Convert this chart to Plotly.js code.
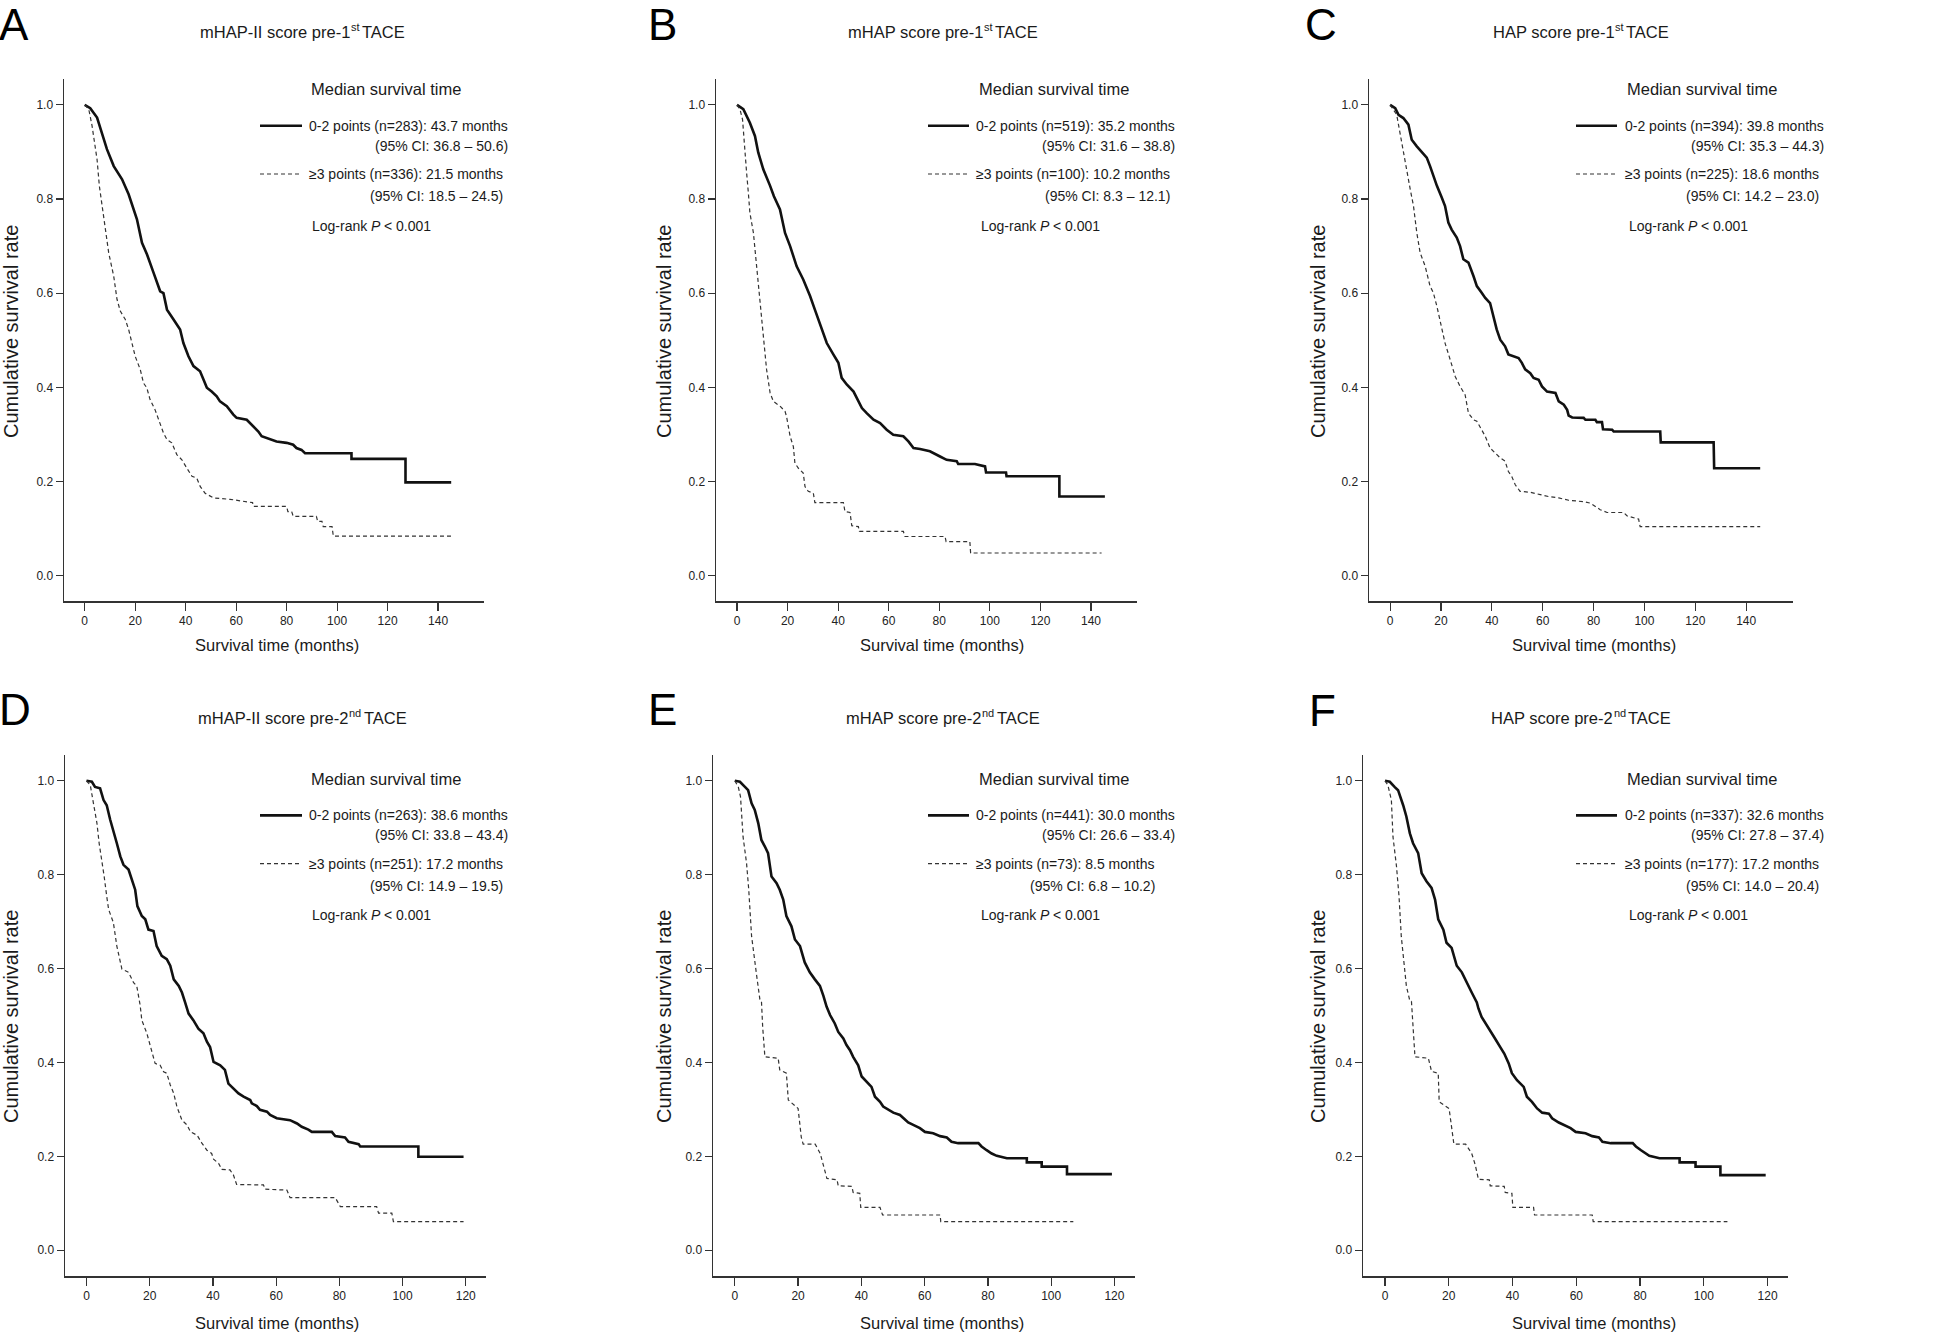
<!DOCTYPE html>
<html>
<head>
<meta charset="utf-8">
<script src="https://cdn.plot.ly/plotly-3.0.1.min.js"></script>
<style>html,body{margin:0;padding:0;background:#fff;}#chart{width:1946px;height:1337px;}</style>
</head>
<body>
<div id="chart"></div>
<script>
// ---------------- DATA ----------------
const panelLetters = ['A','B','C','D','E','F'];
const titleMain = ['mHAP-II score pre-1','mHAP score pre-1','HAP score pre-1','mHAP-II score pre-2','mHAP score pre-2','HAP score pre-2'];
const titleSup = ['st','st','st','nd','nd','nd'];
const titleTail = 'TACE';
const lowLabels = [
  '0-2 points (n=283): 43.7 months','0-2 points (n=519): 35.2 months','0-2 points (n=394): 39.8 months',
  '0-2 points (n=263): 38.6 months','0-2 points (n=441): 30.0 months','0-2 points (n=337): 32.6 months'
];
const lowCI = [
  '(95% CI: 36.8 – 50.6)','(95% CI: 31.6 – 38.8)','(95% CI: 35.3 – 44.3)',
  '(95% CI: 33.8 – 43.4)','(95% CI: 26.6 – 33.4)','(95% CI: 27.8 – 37.4)'
];
const highLabels = [
  '≥3 points (n=336): 21.5 months','≥3 points (n=100): 10.2 months','≥3 points (n=225): 18.6 months',
  '≥3 points (n=251): 17.2 months','≥3 points (n=73): 8.5 months','≥3 points (n=177): 17.2 months'
];
const highCI = [
  '(95% CI: 18.5 – 24.5)','(95% CI: 8.3 – 12.1)','(95% CI: 14.2 – 23.0)',
  '(95% CI: 14.9 – 19.5)','(95% CI: 6.8 – 10.2)','(95% CI: 14.0 – 20.4)'
];
const legendHeading = 'Median survival time';
const logRankParts = ['Log-rank', 'P', '< 0.001'];
const xAxisTitle = 'Survival time (months)';
const yAxisTitle = 'Cumulative survival rate';
const xTicksTop = [0,20,40,60,80,100,120,140];
const xTicksBottom = [0,20,40,60,80,100,120];
const yTicks = [0,0.2,0.4,0.6,0.8,1.0];

// Panel A
const A_solid_t = [0,2.2,4.9,6.2,8.8,11.5,14.8,17.4,19.4,20.7,22.7,24.7,27.3,29.9,31.2,32.6,35.2,37.8,39.1,41.1,43.1,45.7,47.1,48.4,50.3,52.3,53.6,56.3,58.9,60.2,64.2,66.8,68.8,70.1,72.1,76.0,80.0,82.6,83.9,85.9,87.3,105.7,105.7,127.1,127.1,145.2];
const A_solid_s = [1.0,0.993,0.973,0.952,0.906,0.870,0.842,0.810,0.778,0.757,0.707,0.682,0.643,0.604,0.600,0.565,0.544,0.523,0.494,0.466,0.445,0.434,0.416,0.399,0.391,0.381,0.370,0.360,0.342,0.335,0.331,0.317,0.306,0.296,0.292,0.285,0.282,0.278,0.271,0.267,0.260,0.260,0.248,0.248,0.198,0.198];
const A_dash_t = [0,1.6,2.9,3.95,4.9,5.8,6.9,8.2,9.5,11.5,12.8,14.1,16.1,17.4,18.7,20.0,22.0,23.3,24.6,25.9,27.9,29.3,31.2,32.6,34.5,36.5,38.5,40.5,42.5,44.4,45.8,47.7,51.0,57.6,65.5,66.5,66.8,80.0,80.5,82.0,82.6,91.8,92.3,94.0,94.5,98.0,98.5,145.2];
const A_dash_s = [1.0,0.991,0.956,0.920,0.884,0.828,0.785,0.743,0.686,0.636,0.587,0.562,0.544,0.523,0.494,0.466,0.438,0.409,0.399,0.374,0.352,0.331,0.303,0.289,0.282,0.257,0.246,0.228,0.211,0.207,0.189,0.175,0.165,0.162,0.155,0.155,0.147,0.147,0.136,0.136,0.126,0.126,0.115,0.115,0.104,0.104,0.084,0.084];

// Panel B
const B_solid_t = [0,2.5,5.1,7.1,8.4,10.4,13.1,14.6,17.0,19.0,21.0,23.6,26.2,28.9,30.8,32.1,33.5,35.5,38.1,40.1,41.4,43.4,46.1,48.0,49.4,51.3,54.0,56.6,59.2,61.8,65.8,67.8,69.8,72.4,76.3,80.3,82.9,86.9,87.5,94.1,98.1,98.5,106.4,106.6,127.5,127.5,145.5];
const B_solid_s = [1.0,0.991,0.962,0.934,0.899,0.863,0.828,0.806,0.778,0.728,0.700,0.657,0.629,0.594,0.565,0.544,0.523,0.494,0.470,0.452,0.420,0.406,0.391,0.370,0.356,0.345,0.331,0.324,0.310,0.299,0.296,0.285,0.271,0.269,0.264,0.253,0.246,0.243,0.237,0.237,0.232,0.219,0.219,0.211,0.211,0.168,0.168];
const B_dash_t = [0,1.2,2.2,2.9,3.8,4.5,5.1,6.5,7.5,8.4,9.5,10.1,10.8,11.7,13.1,14.4,17.0,19.0,19.6,21.0,22.3,22.9,24.3,26.2,26.9,28.2,30.2,30.8,42.1,42.7,44.7,45.4,48.0,48.4,65.8,66.4,82.3,82.7,92.1,92.4,144.2];
const B_dash_s = [1.0,0.990,0.969,0.913,0.856,0.813,0.771,0.728,0.672,0.615,0.558,0.523,0.480,0.438,0.388,0.370,0.360,0.349,0.338,0.296,0.274,0.239,0.228,0.218,0.189,0.179,0.175,0.155,0.155,0.136,0.134,0.106,0.104,0.094,0.094,0.083,0.083,0.072,0.072,0.048,0.048];

// Panel C
const C_solid_t = [0,2.0,3.3,5.2,7.2,8.5,10.5,12.5,14.4,15.7,17.0,18.4,20.3,21.6,22.9,24.2,26.2,27.5,28.8,30.8,32.8,34.1,36.0,37.4,39.3,40.6,41.9,43.3,45.2,46.5,48.5,50.5,51.8,53.1,55.1,56.4,58.4,59.7,61.7,65.0,66.3,68.3,69.6,70.2,71.6,76.1,76.8,80.7,81.3,83.3,83.7,87.3,87.9,106.2,106.4,127.2,127.4,145.5];
const C_solid_s = [1.0,0.993,0.979,0.972,0.958,0.926,0.912,0.899,0.888,0.870,0.849,0.828,0.803,0.785,0.750,0.735,0.718,0.700,0.672,0.665,0.636,0.615,0.601,0.590,0.579,0.551,0.523,0.501,0.487,0.470,0.466,0.462,0.452,0.438,0.430,0.420,0.416,0.402,0.391,0.388,0.370,0.363,0.352,0.340,0.336,0.335,0.331,0.331,0.326,0.326,0.311,0.310,0.306,0.306,0.283,0.283,0.228,0.228];
const C_dash_t = [0,1.3,2.6,3.9,5.2,6.6,7.9,9.2,10.5,11.8,13.8,15.7,17.0,18.4,19.7,20.3,21.6,23.6,25.6,27.5,29.5,30.8,32.8,34.1,36.1,37.4,39.3,41.3,43.3,45.2,46.5,47.8,49.2,51.1,55.1,59.0,62.3,66.3,70.2,76.1,78.7,80.7,82.6,85.3,91.8,93.1,97.7,98.3,145.5];
const C_dash_s = [1.0,0.990,0.979,0.940,0.899,0.856,0.821,0.785,0.728,0.686,0.657,0.615,0.601,0.572,0.537,0.523,0.494,0.459,0.423,0.402,0.384,0.345,0.331,0.328,0.310,0.296,0.271,0.260,0.250,0.243,0.221,0.211,0.193,0.179,0.177,0.172,0.168,0.165,0.160,0.157,0.154,0.147,0.140,0.134,0.134,0.127,0.120,0.104,0.104];

// Panel D
const D_solid_t = [0,1.7,2.7,4.3,5.4,6.4,7.5,8.6,9.6,10.7,11.7,13.3,14.4,15.4,16.1,17.5,18.6,19.6,21.2,22.2,23.8,25.4,26.5,27.6,29.2,30.2,31.2,32.3,33.8,35.4,37.0,38.1,39.1,40.2,42.3,43.8,44.9,46.5,48.1,49.7,51.8,52.3,53.9,54.9,57.1,58.1,60.2,64.4,66.6,68.1,70.2,71.3,77.6,78.7,81.8,82.9,86.1,86.6,105.0,105.0,119.3];
const D_solid_s = [1.0,0.998,0.987,0.984,0.959,0.948,0.917,0.888,0.867,0.839,0.821,0.811,0.789,0.768,0.733,0.712,0.705,0.683,0.680,0.648,0.627,0.620,0.606,0.577,0.563,0.549,0.528,0.504,0.490,0.472,0.462,0.444,0.433,0.401,0.394,0.384,0.355,0.345,0.334,0.327,0.320,0.313,0.307,0.299,0.295,0.288,0.281,0.277,0.270,0.263,0.257,0.252,0.252,0.243,0.240,0.231,0.226,0.221,0.221,0.199,0.199];
const D_dash_t = [0,1.2,2.2,3.3,4.0,4.9,5.6,6.4,7.0,8.5,9.6,11.2,13.3,14.9,15.9,17.0,17.5,19.1,20.7,21.7,23.3,24.4,25.4,26.5,27.6,28.6,30.2,31.8,32.9,35.0,36.5,38.1,39.6,40.2,41.8,42.8,45.4,46.5,47.5,56.0,56.5,63.4,64.4,78.7,80.3,91.8,92.4,96.6,97.1,119.3];
const D_dash_s = [1.0,0.991,0.952,0.910,0.867,0.832,0.796,0.754,0.726,0.698,0.648,0.599,0.592,0.570,0.563,0.521,0.490,0.462,0.419,0.398,0.394,0.380,0.377,0.352,0.334,0.306,0.277,0.267,0.252,0.245,0.228,0.213,0.206,0.194,0.185,0.172,0.171,0.160,0.140,0.139,0.130,0.128,0.112,0.112,0.093,0.093,0.079,0.079,0.061,0.061];

// Panel E
const E_solid_t = [0,1.6,3.2,4.2,5.3,6.3,7.4,8.4,9.5,10.5,11.6,13.2,14.2,15.3,16.3,17.9,19.0,20.6,22.1,23.7,25.3,26.9,28.0,29.0,30.1,31.6,32.7,34.3,35.3,36.4,37.4,39.0,40.1,41.7,43.2,44.3,45.9,46.9,48.5,50.1,52.2,53.3,54.8,56.4,58.5,60.1,62.7,64.9,67.0,68.5,70.6,77.0,78.0,79.6,81.2,82.8,86.0,92.3,92.3,97.0,97.0,105.0,105.0,119.2];
const E_solid_s = [1.0,0.998,0.987,0.980,0.952,0.938,0.910,0.874,0.860,0.846,0.796,0.782,0.768,0.747,0.712,0.690,0.662,0.648,0.613,0.592,0.577,0.563,0.542,0.519,0.501,0.483,0.465,0.451,0.437,0.426,0.412,0.394,0.370,0.359,0.348,0.327,0.316,0.306,0.299,0.293,0.288,0.281,0.272,0.267,0.260,0.252,0.249,0.243,0.240,0.231,0.228,0.228,0.221,0.213,0.206,0.201,0.196,0.196,0.187,0.187,0.178,0.178,0.162,0.162];
const E_dash_t = [0,1.1,1.8,2.6,3.7,4.4,5.3,6.0,6.9,7.9,8.4,8.8,9.5,13.7,14.2,16.3,16.9,20.0,21.0,21.6,25.4,27.0,28.0,29.1,32.3,32.7,37.0,37.4,39.5,39.8,45.9,46.7,64.9,65.1,107.0];
const E_dash_s = [1.0,0.987,0.966,0.881,0.825,0.768,0.669,0.627,0.585,0.535,0.533,0.476,0.412,0.409,0.384,0.377,0.320,0.302,0.241,0.226,0.226,0.206,0.182,0.153,0.150,0.137,0.136,0.123,0.121,0.091,0.091,0.075,0.075,0.061,0.061];

// Panel F
const F_solid_t = [0,1.5,3.0,4.1,5.7,6.7,7.8,8.8,10.4,11.5,13.0,14.6,15.7,16.7,18.3,19.3,20.9,22.5,24.1,25.6,27.2,28.8,29.3,30.3,31.9,33.0,34.5,36.1,37.4,38.8,39.8,41.4,43.5,44.5,46.1,47.7,49.3,51.4,52.4,54.5,56.1,58.2,59.8,62.9,65.0,67.1,68.2,70.8,77.7,78.7,80.3,81.9,82.9,86.1,92.4,92.4,97.4,97.4,105.2,105.2,119.4];
const F_solid_s = [1.0,0.998,0.987,0.980,0.948,0.924,0.888,0.867,0.846,0.803,0.786,0.772,0.747,0.705,0.683,0.655,0.644,0.606,0.592,0.570,0.549,0.528,0.515,0.497,0.480,0.469,0.451,0.433,0.419,0.398,0.377,0.362,0.348,0.327,0.316,0.302,0.293,0.291,0.281,0.272,0.267,0.260,0.252,0.249,0.243,0.240,0.231,0.228,0.228,0.221,0.213,0.206,0.201,0.196,0.196,0.187,0.187,0.178,0.178,0.160,0.160];
const F_dash_t = [0,0.9,2.0,2.5,3.6,4.4,5.1,5.9,6.7,7.8,8.3,8.8,9.4,13.6,14.6,16.7,17.0,20.1,21.2,21.6,25.3,27.2,28.3,29.3,32.7,33.0,37.4,37.7,39.8,40.1,46.6,46.9,65.0,65.3,107.4];
const F_dash_s = [1.0,0.991,0.959,0.881,0.818,0.754,0.669,0.613,0.563,0.531,0.530,0.476,0.412,0.409,0.381,0.377,0.316,0.302,0.241,0.226,0.226,0.206,0.182,0.151,0.150,0.137,0.136,0.123,0.121,0.091,0.091,0.075,0.075,0.061,0.061];

// ---------------- LAYOUT / STYLE ----------------
const W = 1946, H = 1337;
const px = x => x / W;
const py = y => 1 - y / H;

const RF = 'Liberation Sans, Arial, sans-serif';
const INK = '#1a1a1a';
const SZ = {letter: 44, title: 16.5, sup: 11, tick: 12, heading: 16.5, entry: 14, xtitle: 16.5, ytitle: 20};

const measureCtx = document.createElement('canvas').getContext('2d');
function textWidth(str, size, italic){
  measureCtx.font = (italic ? 'italic ' : '') + size + "px 'Liberation Sans', Arial, sans-serif";
  return measureCtx.measureText(str).width;
}

const seriesT = [[A_solid_t,A_dash_t],[B_solid_t,B_dash_t],[C_solid_t,C_dash_t],[D_solid_t,D_dash_t],[E_solid_t,E_dash_t],[F_solid_t,F_dash_t]];
const seriesS = [[A_solid_s,A_dash_s],[B_solid_s,B_dash_s],[C_solid_s,C_dash_s],[D_solid_s,D_dash_s],[E_solid_s,E_dash_s],[F_solid_s,F_dash_s]];

// geometry of each panel (pixels in the 1946x1337 page)
const geo = [
  {x0:64,  x1:484,  y0:79,  y1:601,  xr:[-8.2,158.2], top:true,  col:0},
  {x0:716, x1:1137, y0:79,  y1:601,  xr:[-8.3,158.2], top:true,  col:1},
  {x0:1369,x1:1793, y0:79,  y1:601,  xr:[-8.3,158.4], top:true,  col:2},
  {x0:65,  x1:486,  y0:755, y1:1276, xr:[-6.8,126.4], top:false, col:0},
  {x0:713, x1:1135, y0:755, y1:1276, xr:[-6.9,126.5], top:false, col:1},
  {x0:1363,x1:1788, y0:755, y1:1276, xr:[-6.9,126.4], top:false, col:2}
];
const letterPos = [[14,0],[662,0],[1321,0],[15,685],[662,685],[1322,686]];
const titlePos = [[302.5,32],[943,32],[1581,32],[302.5,718],[943,718],[1581,718]];
const legLeft = [ // heading, lineX0, lineX1, entry, logrank
  [311,260,302,309,312],[979,928,969,976,981],[1627,1576,1617,1625,1629]
];
const yTitleX = [11,664,1318];
const xTitleX = [276.7,941.7,1593.8];

const traces = [];
const layout = {
  width: W, height: H,
  margin: {l:0, r:0, t:0, b:0, pad:0},
  paper_bgcolor: '#fff', plot_bgcolor: 'rgba(0,0,0,0)',
  showlegend: false,
  annotations: [], shapes: []
};

geo.forEach((g, i) => {
  const n = i + 1;
  const xa = n === 1 ? 'x' : 'x' + n;
  const ya = n === 1 ? 'y' : 'y' + n;
  const xKey = n === 1 ? 'xaxis' : 'xaxis' + n;
  const yKey = n === 1 ? 'yaxis' : 'yaxis' + n;
  const dy = g.top ? 0 : 689.7;

  traces.push({
    x: seriesT[i][0], y: seriesS[i][0], xaxis: xa, yaxis: ya,
    type: 'scatter', mode: 'lines', hoverinfo: 'skip',
    line: {color: '#111', width: 2.6, shape: 'linear'}, name: lowLabels[i]
  });
  traces.push({
    x: seriesT[i][1], y: seriesS[i][1], xaxis: xa, yaxis: ya,
    type: 'scatter', mode: 'lines', hoverinfo: 'skip',
    line: {color: '#333', width: 1.2, dash: '4px,3px', shape: 'linear'}, name: highLabels[i]
  });

  const axCommon = {
    ticks: 'outside', tickwidth: 1.2, tickcolor: '#333',
    showline: true, linecolor: '#333', linewidth: 1.5,
    showgrid: false, zeroline: false, fixedrange: true,
    tickfont: {family: RF, size: SZ.tick, color: '#222'}
  };
  layout[xKey] = Object.assign({
    domain: [px(g.x0), px(g.x1)], anchor: ya, range: g.xr,
    tickmode: 'array', tickvals: g.top ? xTicksTop : xTicksBottom, ticklen: 8
  }, axCommon);
  layout[yKey] = Object.assign({
    domain: [py(g.y1), py(g.y0)], anchor: xa, range: g.top ? [-0.054,1.055] : [-0.055,1.055],
    tickmode: 'array', tickvals: yTicks, tickformat: '.1f', ticklen: 7
  }, axCommon);

  const A = layout.annotations, S = layout.shapes;
  const ann = (x, y, text, font, extra) => A.push(Object.assign({
    xref: 'paper', yref: 'paper', x: px(x), y: py(y), text: text, showarrow: false,
    xanchor: 'left', yanchor: 'middle', font: font, borderpad: 0, borderwidth: 0
  }, extra || {}));

  // panel letter
  ann(letterPos[i][0], letterPos[i][1], panelLetters[i], {family: RF, size: SZ.letter, color: '#000'}, {xanchor: 'center', yanchor: 'top'});

  // panel title: main text + superscript + tail
  const wMain = textWidth(titleMain[i], SZ.title);
  const wSup = textWidth(titleSup[i], SZ.sup);
  const wSp = textWidth(' ', SZ.title) * 0.6;
  const wTail = textWidth(titleTail, SZ.title);
  const tx0 = titlePos[i][0] - (wMain + wSup + wSp + wTail) / 2;
  const ty = titlePos[i][1] + dy * 0;
  ann(tx0, ty, titleMain[i], {family: RF, size: SZ.title, color: INK});
  ann(tx0 + wMain + 0.5, ty - 5, titleSup[i], {family: RF, size: SZ.sup, color: INK});
  ann(tx0 + wMain + wSup + wSp, ty, titleTail, {family: RF, size: SZ.title, color: INK});

  // axis titles
  ann(xTitleX[g.col], g.top ? 645 : 1323, xAxisTitle, {family: RF, size: SZ.xtitle, color: INK}, {xanchor: 'center'});
  ann(yTitleX[g.col], g.top ? 332 : 1017, yAxisTitle, {family: RF, size: SZ.ytitle, color: INK}, {xanchor: 'center', textangle: -90});

  // legend block
  const L = legLeft[g.col];
  ann(L[0], 89.3 + dy, legendHeading, {family: RF, size: SZ.heading, color: INK});
  const w1 = textWidth(lowLabels[i], SZ.entry);
  const w2 = textWidth(highLabels[i], SZ.entry);
  ann(L[3], 125.7 + dy, lowLabels[i], {family: RF, size: SZ.entry, color: INK});
  ann(L[3] + w1, 145.7 + dy, lowCI[i], {family: RF, size: SZ.entry, color: INK}, {xanchor: 'right'});
  ann(L[3], 174 + dy, highLabels[i], {family: RF, size: SZ.entry, color: INK});
  ann(L[3] + w2, 196 + dy, highCI[i], {family: RF, size: SZ.entry, color: INK}, {xanchor: 'right'});

  // log-rank line: "Log-rank" + italic "P" + "< 0.001"
  const sp = textWidth(' ', SZ.entry);
  const wa = textWidth(logRankParts[0], SZ.entry);
  const wb = textWidth(logRankParts[1], SZ.entry, true);
  ann(L[4], 225.7 + dy, logRankParts[0], {family: RF, size: SZ.entry, color: INK});
  ann(L[4] + wa + sp, 225.7 + dy, logRankParts[1], {family: RF, size: SZ.entry, color: INK, style: 'italic'});
  ann(L[4] + wa + sp + wb + sp, 225.7 + dy, logRankParts[2].replace('<', '&lt;'), {family: RF, size: SZ.entry, color: INK});

  S.push({type: 'line', xref: 'paper', yref: 'paper', x0: px(L[1]), x1: px(L[2]), y0: py(125.7 + dy), y1: py(125.7 + dy),
          line: {color: '#111', width: 2.6}});
  S.push({type: 'line', xref: 'paper', yref: 'paper', x0: px(L[1]), x1: px(L[2]), y0: py(174 + dy), y1: py(174 + dy),
          line: {color: '#333', width: 1.2, dash: '4px,3px'}});
});

Plotly.newPlot('chart', traces, layout, {staticPlot: true, displayModeBar: false});
</script>
</body>
</html>
